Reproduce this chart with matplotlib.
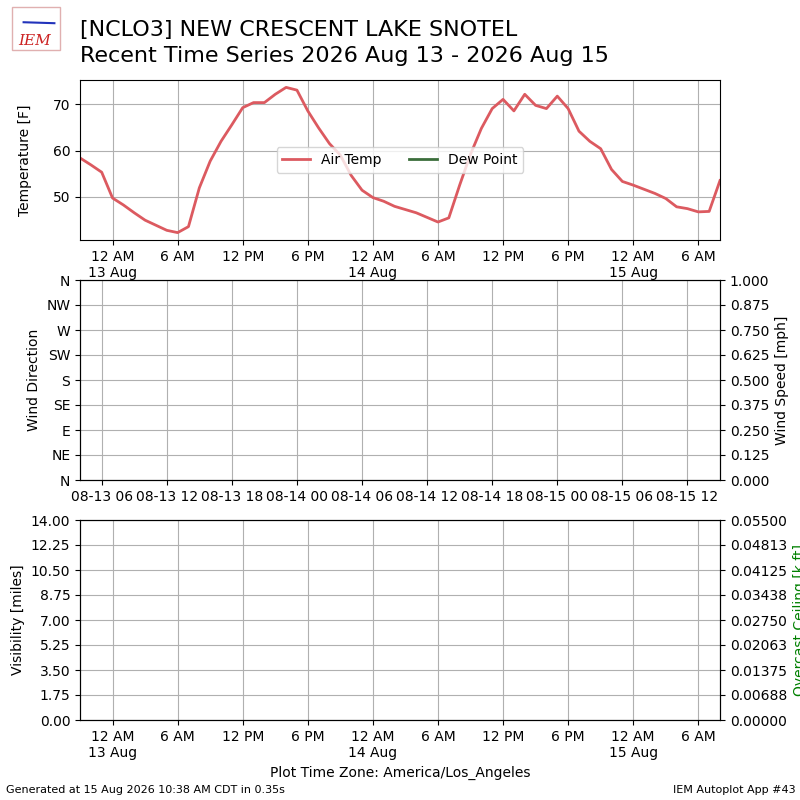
import matplotlib
matplotlib.use("Agg")
import matplotlib.pyplot as plt
import matplotlib.dates as mdates
from matplotlib.ticker import FuncFormatter
import numpy as np
import pandas as pd
from zoneinfo import ZoneInfo

# ---------------- data ----------------
station_title = "[NCLO3] NEW CRESCENT LAKE SNOTEL"
subtitle = "Recent Time Series 2026 Aug 13 - 2026 Aug 15"
start_local = "2026-08-12 21:00"
air_temp = [58.4, 56.9, 55.3, 49.7, 48.2, 46.5, 44.9, 43.8, 42.7, 42.2,
            43.5, 51.9, 57.7, 62.0, 65.6, 69.3, 70.4, 70.4, 72.2, 73.7,
            73.1, 68.6, 64.9, 61.5, 59.0, 54.6, 51.4, 49.8, 49.0, 47.9,
            47.2, 46.5, 45.5, 44.5, 45.4, 52.5, 59.2, 64.8, 69.1, 71.1,
            68.6, 72.2, 69.8, 69.1, 71.8, 69.1, 64.2, 62.0, 60.4, 55.9,
            53.3, 52.5, 51.6, 50.7, 49.6, 47.8, 47.4, 46.7, 46.8, 53.5]
dir_labels = ["N", "NE", "E", "SE", "S", "SW", "W", "NW", "N"]
dir_ticks = [0, 45, 90, 135, 180, 225, 270, 315, 360]
wind_speed_ticks = [0.0, 0.125, 0.25, 0.375, 0.5, 0.625, 0.75, 0.875, 1.0]
vis_ticks = [0.0, 1.75, 3.5, 5.25, 7.0, 8.75, 10.5, 12.25, 14.0]
ceil_ticks = [0.0, 0.006875, 0.01375, 0.020625, 0.0275, 0.034375, 0.04125, 0.048125, 0.055]

LA = ZoneInfo("America/Los_Angeles")
UTC = ZoneInfo("UTC")
times = pd.date_range(start_local, periods=len(air_temp), freq="h", tz="America/Los_Angeles")
tpy = times.to_pydatetime()

plt.rcParams["font.family"] = ["DejaVu Sans"]

fig = plt.figure(figsize=(8, 8), dpi=100)

def local_fmt(x, pos=None):
    d = mdates.num2date(x, tz=LA)
    if d.hour == 0:
        return "12 AM\n%d %s" % (d.day, d.strftime("%b"))
    h = d.hour % 12
    if h == 0:
        h = 12
    return "%d %s" % (h, "AM" if d.hour < 12 else "PM")

def setup_local_xaxis(ax):
    ax.xaxis.set_major_locator(mdates.HourLocator(byhour=[0, 6, 12, 18], tz=LA))
    ax.xaxis.set_major_formatter(FuncFormatter(local_fmt))
    ax.set_xlim(tpy[0], tpy[-1])

# ---- top: temperature ----
ax1 = fig.add_axes([0.1, 0.7, 0.8, 0.2])
ax1.plot(tpy, air_temp, color="#dc5a60", lw=2, label="Air Temp")
ax1.plot([], [], color="#3b6e3b", lw=2, label="Dew Point")
setup_local_xaxis(ax1)
ax1.grid(True)
ax1.set_ylabel("Temperature [F]", labelpad=15)
ax1.set_yticks([50, 60, 70])
ax1.set_ylim(40.6, 75.3)
ax1.legend(loc="center", ncol=2)

# ---- middle: wind ----
ax2 = fig.add_axes([0.1, 0.4, 0.8, 0.25])
ax2.set_xlim(tpy[0], tpy[-1])
ax2.xaxis.set_major_locator(mdates.HourLocator(byhour=[0, 6, 12, 18], tz=UTC))
ax2.xaxis.set_major_formatter(mdates.DateFormatter("%m-%d %H", tz=UTC))
ax2.set_ylim(0, 360)
ax2.set_yticks(dir_ticks)
ax2.set_yticklabels(dir_labels)
ax2.set_ylabel("Wind Direction")
ax2.grid(True)
ax2b = ax2.twinx()
ax2b.set_ylim(0, 1)
ax2b.set_yticks(wind_speed_ticks)
ax2b.yaxis.set_major_formatter(FuncFormatter(lambda v, p: "%.3f" % v))
ax2b.set_ylabel("Wind Speed [mph]")

# ---- bottom: visibility / ceiling ----
ax3 = fig.add_axes([0.1, 0.1, 0.8, 0.25])
setup_local_xaxis(ax3)
ax3.set_ylim(0, 14)
ax3.set_yticks(vis_ticks)
ax3.yaxis.set_major_formatter(FuncFormatter(lambda v, p: "%.2f" % v))
ax3.set_ylabel("Visibility [miles]")
ax3.grid(True)
ax3.set_xlabel("Plot Time Zone: America/Los_Angeles")
ax3b = ax3.twinx()
ax3b.set_ylim(0, 0.055)
ax3b.set_yticks(ceil_ticks)
ax3b.yaxis.set_major_formatter(
    FuncFormatter(lambda v, p: "%.5f" % (np.floor(v * 1e5 + 0.5 + 1e-7) / 1e5)))
ax3b.set_ylabel("Overcast Ceiling [k ft]", color="green")

# ---- titles / footer ----
fig.text(0.1, 1 - 30 / 800, station_title, fontsize=16, va="center", ha="left")
fig.text(0.1, 1 - 56 / 800, subtitle, fontsize=16, va="center", ha="left")
fig.text(0.008, 0.013, "Generated at 15 Aug 2026 10:38 AM CDT in 0.35s", fontsize=8, ha="left", va="center")
fig.text(0.994, 0.013, "IEM Autoplot App #43", fontsize=8, ha="right", va="center")

# ---- logo (approximation) ----
lax = fig.add_axes([0.012, 0.935, 0.07, 0.06])
lax.set_xlim(0, 1)
lax.set_ylim(0, 1)
lax.axis("off")
lax.add_patch(plt.Rectangle((0.05, 0.05), 0.85, 0.88, fill=False, ec="#e0b0b0", lw=1))
lax.plot([0.25, 0.8], [0.62, 0.6], color="#2233bb", lw=1.5)
lax.text(0.45, 0.22, "IEM", color="#cc2222", fontsize=11, style="italic",
         family="DejaVu Serif", ha="center", va="center")

fig.savefig("out.png", dpi=100)
